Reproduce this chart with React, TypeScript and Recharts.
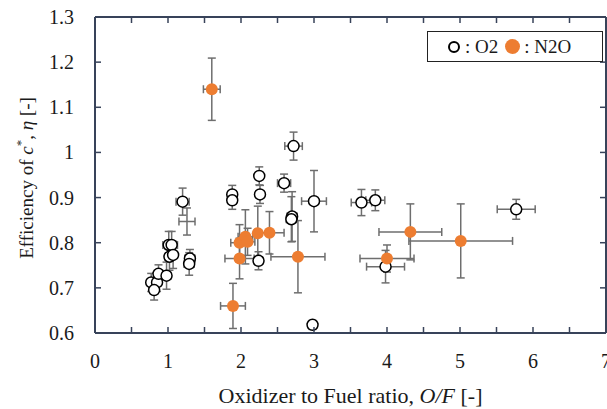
import { ScatterChart, Scatter, XAxis, YAxis, ErrorBar } from "recharts"

// O2 runs
const o2Of = [0.77, 0.85, 0.81, 0.87, 0.98, 1.01, 1.05, 1.02, 1.07, 1.2, 1.3, 1.29, 1.88, 1.88, 2.25, 2.26, 2.24, 2.59, 2.72, 2.7, 2.69, 3.0, 2.98, 3.65, 3.84, 3.98, 5.77]
const o2Eta = [0.712, 0.712, 0.695, 0.731, 0.727, 0.795, 0.795, 0.769, 0.773, 0.891, 0.765, 0.753, 0.907, 0.894, 0.948, 0.907, 0.76, 0.932, 1.014, 0.858, 0.852, 0.892, 0.618, 0.889, 0.894, 0.747, 0.874]
const o2ErrOf = [0.05, 0.05, 0.05, 0.06, 0.06, 0.08, 0.08, 0.06, 0.06, 0.09, 0.07, 0.07, 0.05, 0.05, 0.05, 0.05, 0.06, 0.09, 0.12, 0.07, 0.07, 0.17, 0.06, 0.14, 0.13, 0.26, 0.26]
const o2ErrEta = [0.02, 0.02, 0.022, 0.02, 0.03, 0.03, 0.03, 0.03, 0.03, 0.03, 0.02, 0.025, 0.02, 0.02, 0.02, 0.02, 0.02, 0.02, 0.031, 0.055, 0.05, 0.068, 0.01, 0.029, 0.023, 0.036, 0.022]

// N2O runs
const n2oOf = [1.6, 1.89, 1.98, 1.98, 2.06, 2.09, 2.23, 2.39, 2.78, 4.0, 4.32, 5.01]
const n2oEta = [1.14, 0.66, 0.765, 0.8, 0.813, 0.802, 0.821, 0.822, 0.769, 0.765, 0.824, 0.804]
const n2oErrOf = [0.115, 0.17, 0.2, 0.12, 0.1, 0.1, 0.05, 0.2, 0.37, 0.37, 0.43, 0.71]
const n2oErrEta = [0.069, 0.05, 0.045, 0.04, 0.06, 0.03, 0.06, 0.047, 0.08, 0.03, 0.062, 0.082]

// run drawn with error bars only (no marker in the original)
const bareOf = [1.26]
const bareEta = [0.847]
const bareErrOf = [0.11]
const bareErrEta = [0.03]

const xTicks = [0, 0.5, 1, 1.5, 2, 2.5, 3, 3.5, 4, 4.5, 5, 5.5, 6, 6.5, 7]
const yTicks = [0.6, 0.7, 0.8, 0.9, 1, 1.1, 1.2, 1.3]

const W = 607
const H = 409
const TOP = 17
const LEFT = 95
const BOTTOM = 76
const PLOT_BOTTOM = H - BOTTOM
const PLOT_RIGHT = W - 1

const AXIS = "#38435a"
const ERR = "#6e6e6e"
const ORANGE = "#ED7D31"
const TEXT = "#1a1a1a"
const FONT = "'Liberation Serif', 'Times New Roman', serif"

const toRows = (xs: number[], ys: number[], exs: number[], eys: number[]) =>
  xs.map((x, i) => ({ of: x, eta: ys[i], ex: exs[i], ey: eys[i] }))

const o2Data = toRows(o2Of, o2Eta, o2ErrOf, o2ErrEta)
const n2oData = toRows(n2oOf, n2oEta, n2oErrOf, n2oErrEta)
const bareData = toRows(bareOf, bareEta, bareErrOf, bareErrEta)

const renderBottomTick = (props: any) => {
  const { x, payload } = props
  const v = payload.value
  return (
    <g>
      <line x1={x} x2={x} y1={PLOT_BOTTOM} y2={PLOT_BOTTOM - 6} stroke={AXIS} strokeWidth={1.5} />
      {Number.isInteger(v) && (
        <text x={x} y={PLOT_BOTTOM + 35} textAnchor="middle" fontSize={20} fill={TEXT} style={{ fontFamily: FONT }}>
          {v}
        </text>
      )}
    </g>
  )
}

const renderTopTick = (props: any) => (
  <line x1={props.x} x2={props.x} y1={TOP} y2={TOP + 6} stroke={AXIS} strokeWidth={1.5} />
)

const renderLeftTick = (props: any) => {
  const { y, payload } = props
  const v = Math.round(payload.value * 10) / 10
  return (
    <g>
      <line x1={LEFT} x2={LEFT + 6} y1={y} y2={y} stroke={AXIS} strokeWidth={1.5} />
      <text x={LEFT - 21} y={y + 7} textAnchor="end" fontSize={20} fill={TEXT} style={{ fontFamily: FONT }}>
        {String(v)}
      </text>
    </g>
  )
}

const renderRightTick = (props: any) => (
  <line x1={PLOT_RIGHT} x2={PLOT_RIGHT - 6} y1={props.y} y2={props.y} stroke={AXIS} strokeWidth={1.5} />
)

const OpenDot = (props: any) => (
  <circle cx={props.cx} cy={props.cy} r={5.5} fill="#fff" stroke="#000" strokeWidth={1.5} />
)

const FilledDot = (props: any) => <circle cx={props.cx} cy={props.cy} r={6} fill={ORANGE} />

const NoDot = () => <g />

const YLabel = () => {
  const cx = 33
  const cy = 178
  return (
    <text
      x={cx}
      y={cy}
      transform={`rotate(-90, ${cx}, ${cy})`}
      textAnchor="middle"
      fontSize={19}
      fill={TEXT}
      style={{ fontFamily: FONT }}
    >
      Efficiency of <tspan fontStyle="italic">c</tspan>
      <tspan fontSize={13} dy={-8}>*</tspan>
      <tspan dy={8}>, </tspan>
      <tspan fontStyle="italic">η</tspan> [-]
    </text>
  )
}

const XLabel = () => (
  <text
    x={(LEFT + PLOT_RIGHT) / 2}
    y={PLOT_BOTTOM + 70}
    textAnchor="middle"
    fontSize={22}
    fill={TEXT}
    style={{ fontFamily: FONT }}
  >
    Oxidizer to Fuel ratio, <tspan fontStyle="italic">O/F</tspan> [-]
  </text>
)

const errBars = () => [
  <ErrorBar key="ey" dataKey="ey" direction="y" width={4} stroke={ERR} strokeWidth={1.5} isAnimationActive={false} />,
  <ErrorBar key="ex" dataKey="ex" direction="x" width={4} stroke={ERR} strokeWidth={1.5} isAnimationActive={false} />,
]

export default function App() {
  return (
    <div style={{ position: "absolute", left: 0, top: 0, width: W, height: H, background: "#fff" }}>
      <ScatterChart width={W} height={H} margin={{ top: TOP - 1, right: 0, bottom: 0, left: 0 }}>
        <XAxis
          dataKey="of"
          type="number"
          domain={[0, 7]}
          ticks={xTicks}
          interval={0}
          height={BOTTOM}
          allowDataOverflow
          axisLine={{ stroke: AXIS, strokeWidth: 2 }}
          tickLine={false}
          tick={renderBottomTick}
          label={<XLabel />}
        />
        <XAxis
          xAxisId="top"
          dataKey="of"
          orientation="top"
          type="number"
          domain={[0, 7]}
          ticks={xTicks}
          interval={0}
          height={1}
          allowDataOverflow
          axisLine={{ stroke: AXIS, strokeWidth: 2 }}
          tickLine={false}
          tick={renderTopTick}
        />
        <YAxis
          dataKey="eta"
          type="number"
          domain={[0.6, 1.3]}
          ticks={yTicks}
          interval={0}
          width={LEFT}
          allowDataOverflow
          axisLine={{ stroke: AXIS, strokeWidth: 2 }}
          tickLine={false}
          tick={renderLeftTick}
          label={<YLabel />}
        />
        <YAxis
          yAxisId="right"
          dataKey="eta"
          orientation="right"
          type="number"
          domain={[0.6, 1.3]}
          ticks={yTicks}
          interval={0}
          width={1}
          allowDataOverflow
          axisLine={{ stroke: AXIS, strokeWidth: 2 }}
          tickLine={false}
          tick={renderRightTick}
        />
        <Scatter
          name="bare"
          data={bareData}
          xAxisId="top"
          yAxisId="right"
          shape={<NoDot />}
          isAnimationActive={false}
        >
          {errBars()}
        </Scatter>
        <Scatter name="O2" data={o2Data} shape={<OpenDot />} isAnimationActive={false}>
          {errBars()}
        </Scatter>
        <Scatter name="N2O" data={n2oData} shape={<FilledDot />} isAnimationActive={false}>
          {errBars()}
        </Scatter>
      </ScatterChart>
      <div
        style={{
          position: "absolute",
          left: 427,
          top: 31,
          width: 174,
          height: 29,
          border: "1px solid #222",
          display: "flex",
          alignItems: "center",
          fontFamily: FONT,
          fontSize: 19,
          color: TEXT,
          background: "#fff",
        }}
      >
        <span
          style={{
            display: "inline-block",
            width: 8,
            height: 8,
            borderRadius: "50%",
            border: "2px solid #000",
            marginLeft: 20,
          }}
        />
        <span style={{ marginLeft: 5 }}>: O2</span>
        <span
          style={{
            display: "inline-block",
            width: 15,
            height: 15,
            borderRadius: "50%",
            background: ORANGE,
            marginLeft: 7,
          }}
        />
        <span style={{ marginLeft: 4 }}>: N2O</span>
      </div>
    </div>
  )
}
